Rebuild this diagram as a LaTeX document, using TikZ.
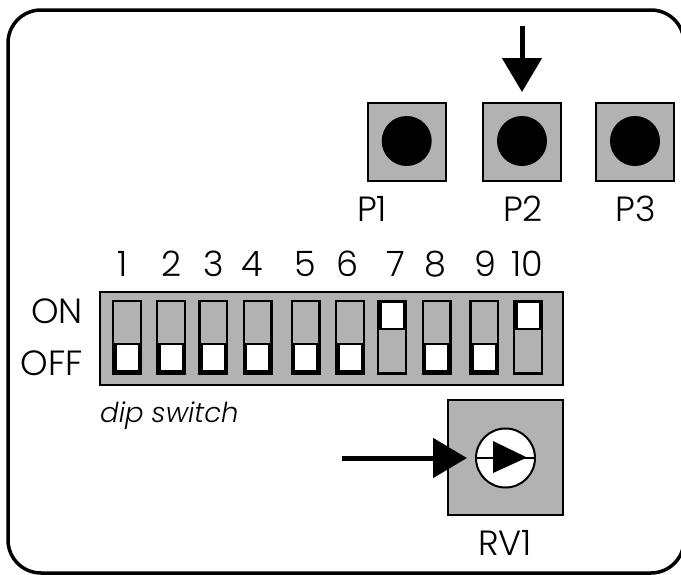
\documentclass[tikz,border=0pt]{standalone}
\usepackage{fontspec}
\setmainfont{Poppins}[UprightFont=* Light,ItalicFont=* Light Italic]
\usetikzlibrary{arrows.meta}
\definecolor{swgray}{HTML}{B2B2B2}
\tikzset{
  x=1pt,y=-1pt,
  panel/.style={draw=black,line width=3.5pt,rounded corners=33pt},
  gbox/.style={draw=black,fill=swgray,line width=2pt,minimum width=78pt,minimum height=78pt,inner sep=0pt,outer sep=0pt},
  knob/.style={circle,fill=black,minimum size=50pt,inner sep=0pt},
  lab/.style={font=\fontsize{35}{35}\selectfont,text=black,inner sep=0pt},
  bigarrow/.style={line width=5pt,-{Triangle[length=34pt,width=39pt]}},
  slot/.style={draw=black,fill=swgray,line width=2.4pt,minimum width=27.6pt,minimum height=72.6pt,inner sep=0pt},
  sliderback/.style={fill=black,minimum width=30pt,inner sep=0pt},
  sliderface/.style={fill=white,minimum width=21pt,minimum height=25pt,inner sep=0pt},
}
\begin{document}
\begin{tikzpicture}
\useasboundingbox (0,0) rectangle (681,574);
\clip (0,0) rectangle (681,574);
\draw[panel] (8,10) rectangle (684,573);
\node[gbox] (p1) at (406.7,141.5) {};
\node[gbox] (p2) at (522,141.5) {};
\node[gbox] (p3) at (635,141.5) {};
\node[knob] (k1) at (406.7,141) {};
\node[knob] (k2) at (522,141) {};
\node[knob] (k3) at (635,141) {};
\node[lab] (lp1) at (372,209) {P1};
\node[lab] (lp2) at (523,209) {P2};
\node[lab] (lp3) at (635.5,209) {P3};
\coordinate (a2) at (522,26);
\coordinate (a2e) at (522,92);
\draw[bigarrow] (a2) -- (a2e);
\node[draw=black,fill=swgray,line width=2pt,minimum width=462.5pt,minimum height=93pt,inner sep=0pt] (dip) at (331.7,338.5) {};
\foreach \n/\xc/\lx/\on in {1/127/123/0,2/171/172/0,3/213.3/214/0,4/257.7/252/0,5/305.7/305/0,6/350/348/0,7/392/396/1,8/436.7/435/0,9/484.3/485/0,10/528/527/1}{
  \node[lab] (n\n) at (\lx,264) {\n};
  \node[slot] (s\n) at (\xc,337) {};
  \ifnum\on=1
    \node[sliderback,minimum height=30pt] (b\n) at (\xc,315) {};
    \node[sliderface] (t\n) at (\xc,315.5) {};
  \else
    \node[sliderback,minimum height=31pt] (b\n) at (\xc,358.5) {};
    \node[sliderface] (t\n) at (\xc,357.5) {};
  \fi
}
\node[lab,anchor=east] (on) at (83,311.5) {ON};
\node[lab,anchor=east] (off) at (83,363) {OFF};
\node[lab,anchor=west,font=\fontsize{27.5}{27.5}\selectfont\itshape] (dl) at (100,416) {dip switch};
\node[gbox,minimum width=115pt,minimum height=115pt] (rv) at (505.5,457.5) {};
\node[circle,draw=black,fill=white,line width=2pt,minimum size=59pt,inner sep=0pt] (c) at (505.5,458) {};
\draw[line width=1.5pt] (c.west) -- (c.east);
\fill (493,441) -- (527,457.5) -- (493,473) -- cycle;
\coordinate (a1) at (342,458);
\coordinate (a1e) at (467,458);
\draw[bigarrow] (a1) -- (a1e);
\node[lab] (lrv) at (505,543) {RV1};
\end{tikzpicture}
\end{document}
